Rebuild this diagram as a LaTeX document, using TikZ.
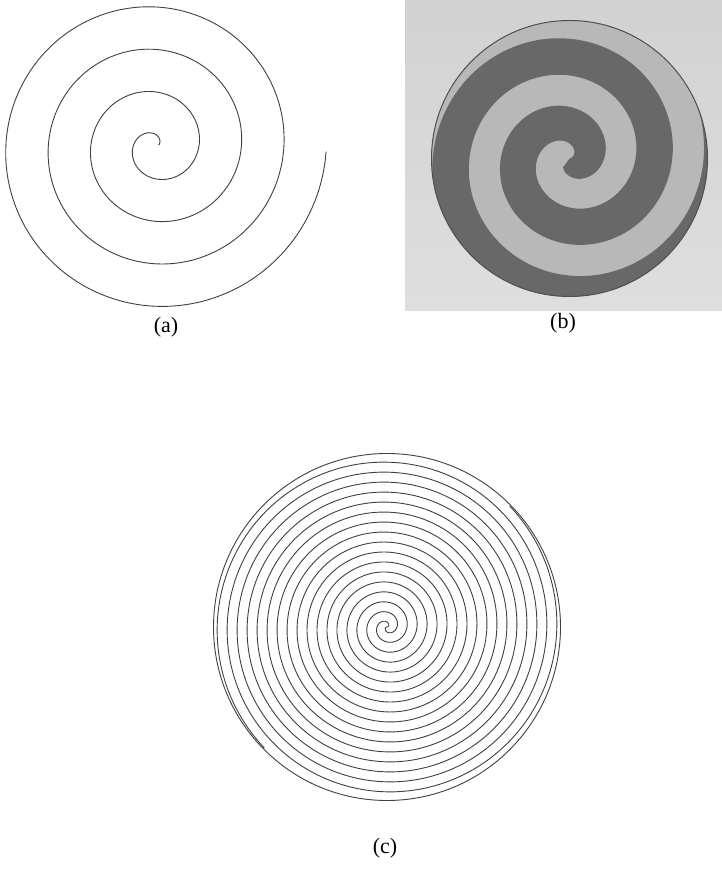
\documentclass[tikz,border=0pt]{standalone}
\usepackage{fontspec}
\setmainfont{Liberation Serif}
\definecolor{inkA}{HTML}{404040}
\definecolor{bgB}{HTML}{DEDEDE}
\definecolor{bgBtop}{HTML}{D2D2D2}
\definecolor{lightB}{HTML}{B8B8B8}
\definecolor{darkB}{HTML}{686868}
\definecolor{edgeB}{HTML}{4E4E4E}
\begin{document}
\begin{tikzpicture}[x=1pt,y=1pt,
  spiralline/.style={draw=inkA,line width=0.9pt,line join=round},
  lab/.style={font=\fontsize{22}{24}\selectfont,inner sep=0pt}]
\useasboundingbox (0,0) rectangle (722,886);
\fill[white] (0,0) rectangle (722,886);

% ---------- (a) single Archimedean spiral ----------
\coordinate (ca) at (155.5,740);
\draw[spiralline] plot[domain=0.3:25.1,samples=500,smooth,variable=\t]
  ({155.5+(1+6.76*\t)*cos(deg(\t))},{740+(1+6.76*\t)*sin(deg(\t))});
\node[lab] (la) at (166,559) {(a)};

% ---------- (b) shaded spiral disk ----------
\shade[top color=bgBtop,bottom color=bgB] (405,575) rectangle (722,886);
\coordinate (cb) at (569.5,727.5);
\fill[lightB] (cb) circle[radius=138];
\begin{scope}
  \clip (cb) circle[radius=138];
  \fill[darkB] plot[domain=-2.2:13.6,samples=320,smooth,variable=\t]
    ({569.5+(34.7+10.83*\t)*cos(deg(\t))},{727.5+(34.7+10.83*\t)*sin(deg(\t))})
    -- plot[domain=13.6:0.2,samples=300,smooth,variable=\t]
    ({569.5+(-2+10.83*\t)*cos(deg(\t))},{727.5+(-2+10.83*\t)*sin(deg(\t))})
    -- cycle;
\end{scope}
\draw[edgeB,line width=1pt] (cb) circle[radius=138];
\node[lab] (lb) at (563,563) {(b)};

% ---------- (c) two-arm spiral disk ----------
\coordinate (cc) at (387,259);
\draw[spiralline] plot[domain=0.05:54.2,samples=1200,smooth,variable=\t]
  ({387+3.18*\t*cos(deg(\t))},{259+3.18*\t*sin(deg(\t))});
\draw[spiralline] plot[domain=0.05:54.2,samples=1200,smooth,variable=\t]
  ({387-3.18*\t*cos(deg(\t))},{259-3.18*\t*sin(deg(\t))});
\draw[spiralline] (cc) circle[radius=173.5];
\node[lab] (lc) at (385,38) {(c)};
\end{tikzpicture}
\end{document}
